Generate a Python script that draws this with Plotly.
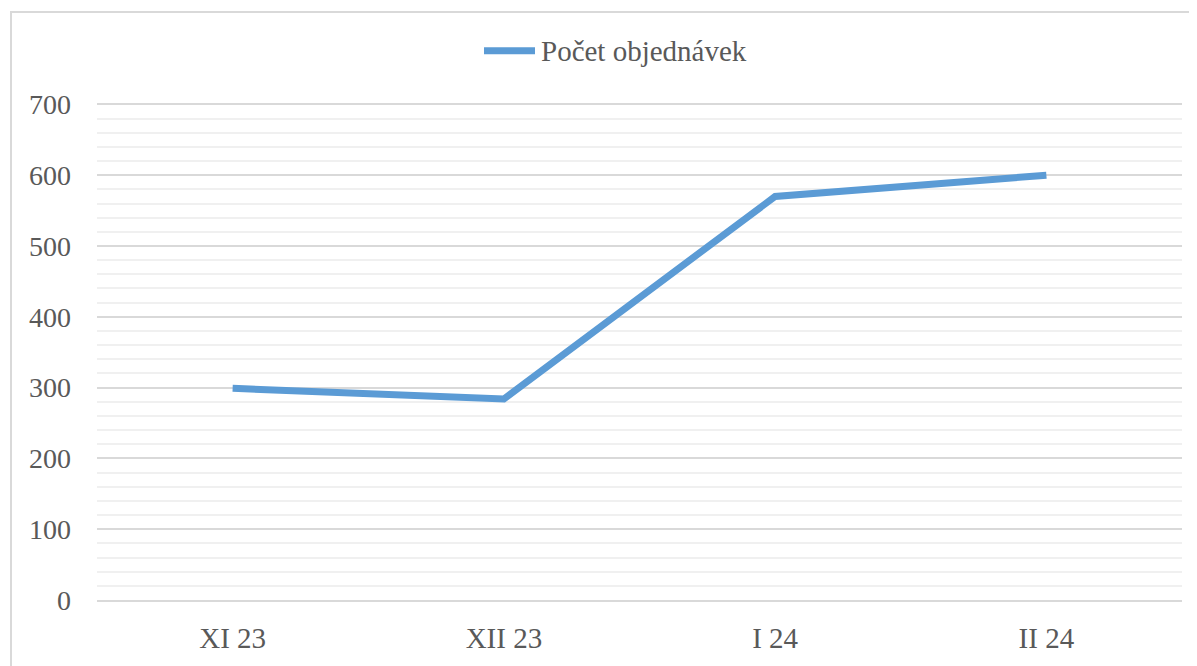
import plotly.graph_objects as go

# Data
months = ["XI 23", "XII 23", "I 24", "II 24"]
orders = [299, 284, 570, 600]
series_name = "Počet objednávek"

# the page body has an 8px margin, so the figure is drawn 8px smaller
OFF = 8
W, H = 1197 - OFF, 666 - OFF
M_L, M_R, M_T, M_B = 97 - OFF, 15, 103 - OFF, 60
PW = W - M_L - M_R
PH = H - M_T - M_B

LINE_COLOR = "#5B9BD5"
TEXT_COLOR = "#595959"
FONT = "Liberation Serif, Times New Roman, serif"


def px_x(x):
    # reference pixel -> paper x
    return (x - OFF - M_L) / PW


def px_y(y):
    # reference pixel -> paper y
    return (H - M_B - (y - OFF)) / PH


fig = go.Figure()

fig.add_trace(go.Scatter(
    x=months,
    y=orders,
    mode="lines",
    name=series_name,
    line=dict(color=LINE_COLOR, width=7),
    showlegend=False,
))

# Excel-style legend: wide line sample + label
fig.add_shape(
    type="line", xref="paper", yref="paper",
    x0=px_x(484), x1=px_x(535), y0=px_y(50), y1=px_y(50),
    line=dict(color=LINE_COLOR, width=7),
)
fig.add_annotation(
    text=series_name, xref="paper", yref="paper",
    x=px_x(539), y=px_y(50), xanchor="left", yanchor="middle",
    showarrow=False, font=dict(family=FONT, size=29, color=TEXT_COLOR),
)

# Chart border (top/left visible, right/bottom cropped)
fig.add_shape(
    type="rect", xref="paper", yref="paper",
    x0=px_x(11), x1=px_x(1197 + 20), y0=px_y(11), y1=px_y(666 + 20),
    line=dict(color="#d9d9d9", width=2), layer="below",
)

fig.update_layout(
    width=W,
    height=H,
    margin=dict(l=M_L, r=M_R, t=M_T, b=M_B),
    paper_bgcolor="white",
    plot_bgcolor="white",
    font=dict(family=FONT, size=28, color=TEXT_COLOR),
    showlegend=False,
)

fig.update_xaxes(
    type="category",
    range=[-0.5, 3.5],
    showgrid=False,
    showline=True,
    linecolor="#d9d9d9",
    linewidth=2,
    ticks="",
    ticklabelstandoff=11,
    tickfont=dict(family=FONT, size=29, color=TEXT_COLOR),
)

fig.update_yaxes(
    range=[0, 702],
    dtick=100,
    showgrid=True,
    gridcolor="#d9d9d9",
    gridwidth=2,
    zeroline=False,
    showline=False,
    ticks="",
    ticklabelstandoff=25,
    tickfont=dict(family=FONT, size=28, color=TEXT_COLOR),
    minor=dict(dtick=20, showgrid=True, gridcolor="#f0f0f0", gridwidth=2),
)

fig.write_html("out.html")
